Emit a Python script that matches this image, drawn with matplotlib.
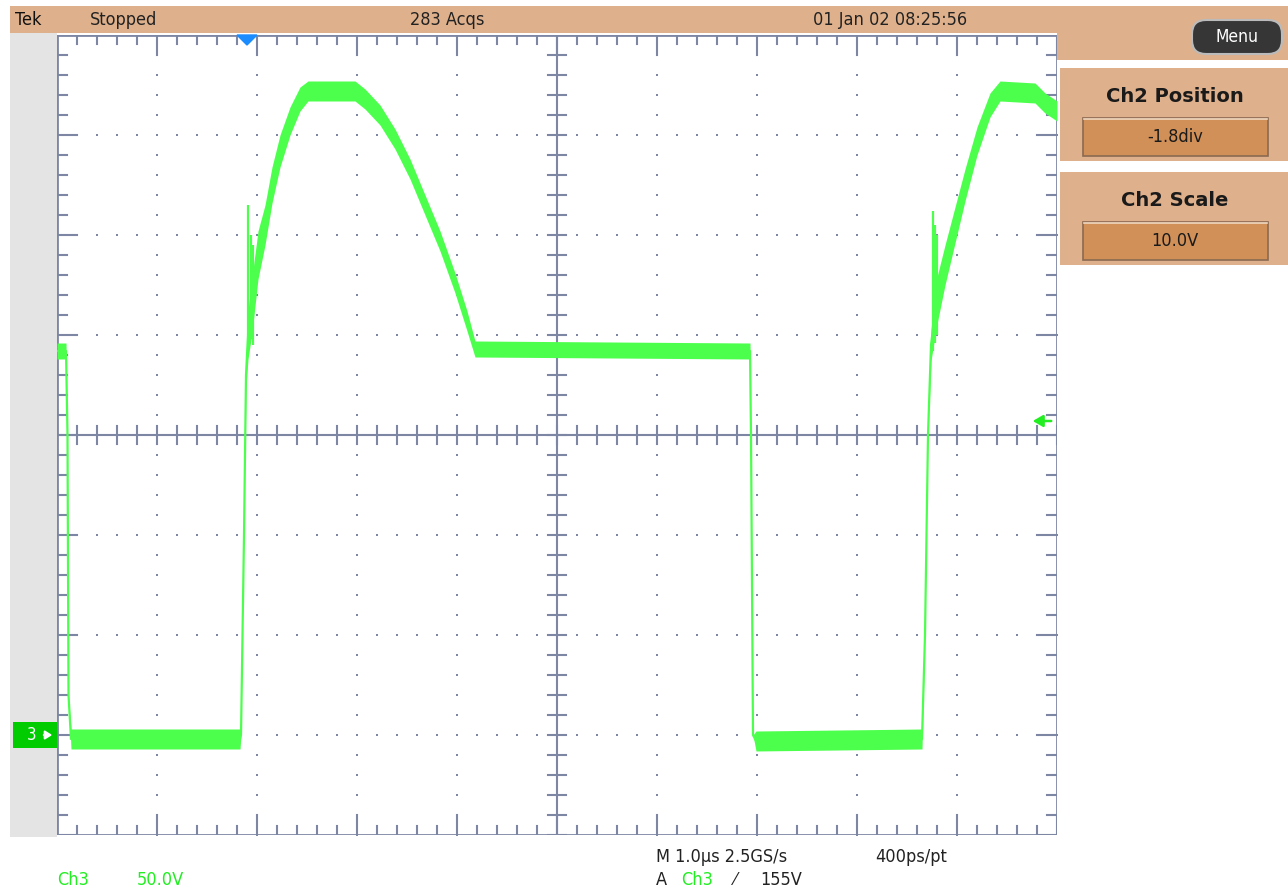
import matplotlib
matplotlib.use("Agg")
import matplotlib.pyplot as plt
import numpy as np
from matplotlib.patches import Rectangle, FancyBboxPatch, Polygon

# ---------------- data (Ch3 trace, time in µs, voltage in V) ----------------
t_us = [-5.00, -4.91, -4.895, -4.885, -4.86, -3.17, -3.16, -3.13, -3.11, -3.09,
        -3.05, -2.99, -2.92, -2.85, -2.77, -2.67, -2.57, -2.49, -2.02, -1.92,
        -1.77, -1.62, -1.47, -1.32, -1.17, -1.02, -0.90, -0.82, 1.93, 1.94,
        1.96, 1.99, 3.65, 3.68, 3.71, 3.74, 3.79, 3.88, 3.98, 4.08,
        4.20, 4.33, 4.43, 4.78, 4.88, 5.00]
volts = [192, 192, 150, 20, -2, -2, 0, 100, 180, 200,
         215, 240, 255, 275, 292, 307, 318, 322, 322, 318,
         310, 298, 283, 265, 247, 226, 207, 193, 192, 150,
         0, -3, -2, 50, 150, 195, 215, 235, 255, 275,
         297, 315, 322, 321, 316, 312]
noise_v = [4, 4, 0, 0, 5, 5, 0, 0, 6, 12,
           14, 12, 10, 9, 8, 7, 6, 5, 5, 5,
           5, 5, 5, 5, 5, 5, 5, 4, 4, 0,
           0, 5, 5, 0, 0, 8, 12, 10, 9, 8,
           7, 6, 5, 5, 5, 5]
# glitches seen on rising edges (time, low V, high V)
glitch_t = [-3.09, -3.06, -3.04, 3.76, 3.78, 3.80]
glitch_lo = [200, 198, 195, 192, 196, 200]
glitch_hi = [265, 250, 245, 262, 255, 250]

ch3_scale = "50.0V"
trigger_level_v = 155
trigger_t = -3.10

# ---------------- figure ----------------
W, H = 1288, 892
fig = plt.figure(figsize=(W / 100, H / 100), dpi=100)
fig.patch.set_facecolor("white")

bg = fig.add_axes([0, 0, 1, 1], zorder=0)
bg.set_xlim(0, W)
bg.set_ylim(H, 0)
bg.axis("off")

PEACH = "#deb08c"
BTN = "#d09058"
GRAT = "#7d86a3"
TRACE = "#4dff4d"
NARROW = dict(family=["DejaVu Sans"], fontstretch="condensed")

# top bar & right panel
bg.add_patch(Rectangle((10, 6), W - 10, 27, color=PEACH, lw=0))
bg.add_patch(Rectangle((1057, 6), W - 1057, 54, color=PEACH, lw=0))
bg.add_patch(Rectangle((10, 33), 47, 804, color="#e4e4e4", lw=0))

# Menu button
bg.add_patch(FancyBboxPatch((1192, 20), 90, 34, boxstyle="round,pad=0,rounding_size=14",
                            fc="#363636", ec="#bbbbbb", lw=1.5))
bg.text(1237, 37, "Menu", color="white", fontsize=12.5, ha="center", va="center",
        **NARROW)

# right panels
for y0, title, val in [(68, "Ch2 Position", "-1.8div"), (172, "Ch2 Scale", "10.0V")]:
    bg.add_patch(Rectangle((1060, y0), W - 1060, 93, color=PEACH, lw=0))
    bg.text(1175, y0 + 28, title, fontsize=14, fontweight="bold", color="#1a1a1a",
            ha="center", va="center")
    bg.add_patch(Rectangle((1083, y0 + 50), 185, 38, fc=BTN, ec="#8a6a50", lw=1.2))
    bg.plot([1084, 1267], [y0 + 51, y0 + 51], color="#f0d8c0", lw=1.2)
    bg.text(1175, y0 + 69, val, fontsize=13, color="#1a1a1a", ha="center",
            va="center", **NARROW)

# top bar texts
FS = 13
bg.text(15, 20, "Tek", fontsize=FS, color="#111111", va="center", **NARROW)
bg.text(90, 20, "Stopped", fontsize=FS, color="#222222", va="center", **NARROW)
bg.text(410, 20, "283 Acqs", fontsize=FS, color="#222222", va="center", **NARROW)
bg.text(813, 20, "01 Jan 02 08:25:56", fontsize=FS, color="#222222", va="center",
        **NARROW)

# bottom texts
bg.text(57, 880, "Ch3", fontsize=FS, color="#22ee22", va="center", **NARROW)
bg.text(137, 880, ch3_scale, fontsize=FS, color="#22ee22", va="center", **NARROW)
bg.text(656, 857, "M 1.0\u00b5s 2.5GS/s", fontsize=FS, color="#222222", va="center",
        **NARROW)
bg.text(875, 857, "400ps/pt", fontsize=FS, color="#222222", va="center", **NARROW)
bg.text(656, 880, "A", fontsize=FS, color="#222222", va="center", **NARROW)
bg.text(681, 880, "Ch3", fontsize=FS, color="#22ee22", va="center", **NARROW)
bg.text(734, 880, "\u2044", fontsize=FS, color="#222222", va="center", **NARROW)
bg.text(760, 880, f"{trigger_level_v}V", fontsize=FS, color="#222222", va="center",
        **NARROW)

# Ch3 ground marker
bg.add_patch(Rectangle((13, 722), 44, 26, color="#00cc00", lw=0))
bg.text(32, 735, "3", color="white", fontsize=12, ha="center", va="center", **NARROW)
bg.annotate("", xy=(55, 735), xytext=(41, 735),
            arrowprops=dict(arrowstyle="-|>,head_length=0.4,head_width=0.25",
                            color="white", lw=1.5))

# ---------------- graticule axes ----------------
ax = fig.add_axes([57 / W, 1 - 835 / H, 1000 / W, 800 / H], zorder=1)
ax.set_xlim(-5, 5)
ax.set_ylim(-50, 350)
ax.axis("off")
ax.set_facecolor("white")

# dotted grid
for yv in np.arange(-50, 351, 50):
    if yv in (-50, 150, 350):
        continue
    xs = np.arange(-5, 5.001, 0.2)
    ax.scatter(xs, np.full_like(xs, yv), s=2.5, marker="s", color=GRAT, lw=0, zorder=2)
for xv in np.arange(-5, 5.01, 1):
    if xv in (-5, 0, 5):
        continue
    ys = np.arange(-50, 350.01, 10)
    ax.scatter(np.full_like(ys, xv), ys, s=2.5, marker="s", color=GRAT, lw=0, zorder=2)

lw_g = 1.5
# frame and center lines
ax.plot([-5, 5, 5, -5, -5], [-50, -50, 350, 350, -50], color=GRAT, lw=2, zorder=3,
        solid_joinstyle="miter")
ax.plot([-5, 5], [150, 150], color=GRAT, lw=lw_g, zorder=3)
ax.plot([0, 0], [-50, 350], color=GRAT, lw=lw_g, zorder=3)

# edge ticks and center ticks
for xv in np.arange(-5, 5.001, 0.2):
    major = abs(xv - round(xv)) < 1e-6
    L = 20 * 0.5 if major else 9 * 0.5   # px -> V
    ax.plot([xv, xv], [350, 350 - L], color=GRAT, lw=lw_g, zorder=3)
    ax.plot([xv, xv], [-50, -50 + L], color=GRAT, lw=lw_g, zorder=3)
    ax.plot([xv, xv], [150 - 4.5, 150 + 4.5], color=GRAT, lw=lw_g, zorder=3)
for yv in np.arange(-50, 350.01, 10):
    major = abs((yv + 50) % 50) < 1e-6
    L = 0.20 if major else 0.10
    ax.plot([-5, -5 + L], [yv, yv], color=GRAT, lw=lw_g, zorder=3)
    ax.plot([5, 5 - L], [yv, yv], color=GRAT, lw=lw_g, zorder=3)
    ax.plot([-0.09, 0.09], [yv, yv], color=GRAT, lw=lw_g, zorder=3)

# trace
t = np.array(t_us)
v = np.array(volts)
n = np.array(noise_v)
ax.fill_between(t, v - n, v + n, color=TRACE, lw=0, zorder=4)
ax.plot(t, v, color=TRACE, lw=1.6, zorder=5)
ax.vlines(glitch_t, glitch_lo, glitch_hi, color=TRACE, lw=1.6, zorder=5)

# trigger position marker (top) and trigger level arrow (right)
ax.add_patch(Polygon([[trigger_t - 0.10, 350], [trigger_t + 0.10, 350],
                      [trigger_t, 345]], closed=True, color="#1a8cff", zorder=6,
                     clip_on=False))
ax.annotate("", xy=(4.73, trigger_level_v + 2), xytext=(4.97, trigger_level_v + 2),
            arrowprops=dict(arrowstyle="-|>,head_length=0.6,head_width=0.35",
                            color="#22ee22", lw=1.8), zorder=6)

fig.savefig("out.png", dpi=100, facecolor="white")
